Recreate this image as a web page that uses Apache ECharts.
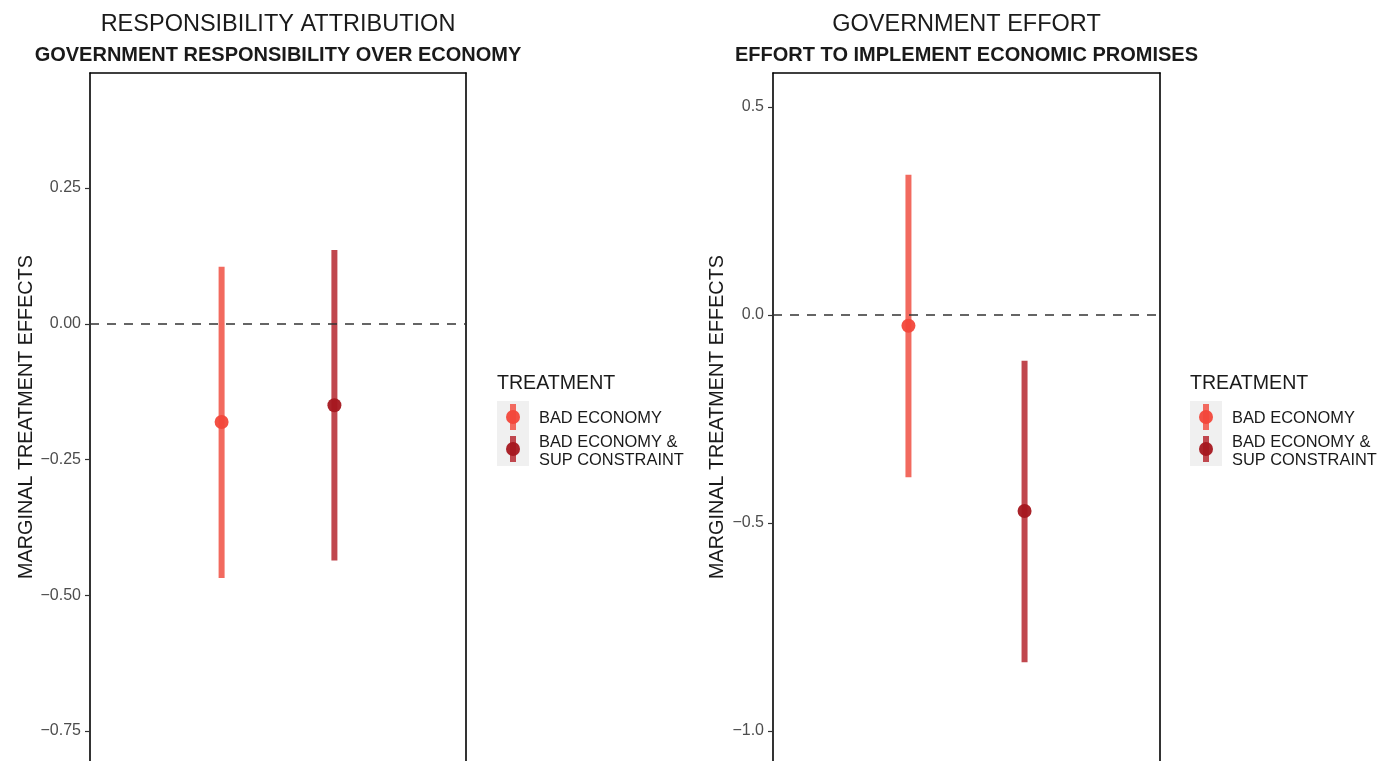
<!DOCTYPE html>
<html>
<head>
<meta charset="utf-8">
<script src="https://cdn.jsdelivr.net/npm/echarts@6/dist/echarts.min.js"></script>
<style>
  html, body { margin: 0; padding: 0; background: #fff; }
  #chart { width: 1392px; height: 761px; }
</style>
</head>
<body>
<div id="chart"></div>
<script>
// Treatment groups shown in both panels
const treatments = ['BAD ECONOMY', 'BAD ECONOMY &\nSUP CONSTRAINT'];

// Panel 1: government responsibility over economy
const respEstimate = [-0.181, -0.150];
const respLower = [-0.468, -0.436];
const respUpper = [0.105, 0.136];
const respTicks = [0.25, 0, -0.25, -0.5, -0.75];

// Panel 2: effort to implement economic promises
const effortEstimate = [-0.026, -0.471];
const effortLower = [-0.390, -0.835];
const effortUpper = [0.337, -0.110];
const effortTicks = [0.5, 0, -0.5, -1.0];

const panelTitles = ['RESPONSIBILITY ATTRIBUTION', 'GOVERNMENT EFFORT'];
const panelSubtitles = ['GOVERNMENT RESPONSIBILITY OVER ECONOMY', 'EFFORT TO IMPLEMENT ECONOMIC PROMISES'];
const yTitle = 'MARGINAL TREATMENT EFFECTS';
const legendTitle = 'TREATMENT';

const barColors = ['#F26A5F', '#C0474E'];
const pointColors = ['#F2473A', '#A5171F'];
const dodge = [-0.18, 0.18];
const FONT = '"Liberation Sans", Arial, Helvetica, sans-serif';

const chart = echarts.init(document.getElementById('chart'), null, { renderer: 'canvas' });

// panels run down to the bottom edge of the canvas (open at the bottom)
const grids = [
  { left: 90, top: 73, width: 376, bottom: 0 },
  { left: 773, top: 73, width: 387, bottom: 0 }
];
const yRanges = [[-0.8052, 0.4618], [-1.0721, 0.5817]];

function fmt(decimals) {
  return v => v.toFixed(decimals).replace('-', '\u2212');
}

const borderLine = { show: true, onZero: false, lineStyle: { color: '#000', width: 1.6 } };

function yAxisFor(idx, ticks, decimals, gap) {
  return {
    type: 'value', gridIndex: idx, min: yRanges[idx][0], max: yRanges[idx][1], position: 'left',
    name: yTitle, nameLocation: 'middle', nameRotate: 90, nameGap: gap,
    nameTextStyle: { fontFamily: FONT, fontSize: 19.8, color: '#1a1a1a' },
    axisLine: borderLine,
    axisTick: { show: true, length: 5, customValues: ticks, lineStyle: { color: '#333', width: 1.2 } },
    axisLabel: { customValues: ticks, formatter: fmt(decimals), fontFamily: FONT, fontSize: 16, color: '#4d4d4d', margin: 9 },
    splitLine: { show: false }
  };
}

function rightEdge(idx) {
  return {
    type: 'value', gridIndex: idx, min: yRanges[idx][0], max: yRanges[idx][1], position: 'right',
    axisLine: borderLine, axisTick: { show: false }, axisLabel: { show: false }, splitLine: { show: false }
  };
}

const series = [];
function addPanel(idx, est, lo, hi) {
  treatments.forEach((t, i) => {
    const x = 1 + dodge[i];
    series.push({
      type: 'line', xAxisIndex: idx, yAxisIndex: idx, name: t,
      data: [[x, hi[i]], [x, lo[i]]],
      showSymbol: false, symbol: 'none', silent: true, z: 3,
      lineStyle: { color: barColors[i], width: 6, cap: 'butt' }
    });
    series.push({
      type: 'scatter', xAxisIndex: idx, yAxisIndex: idx, name: t,
      data: [[x, est[i]]], symbolSize: 14, z: 4,
      itemStyle: { color: pointColors[i], opacity: 0.95 }
    });
  });
  // reference line at zero
  series.push({
    type: 'line', xAxisIndex: idx, yAxisIndex: idx, data: [], z: 2,
    markLine: {
      silent: true, symbol: 'none', label: { show: false },
      lineStyle: { color: '#333', type: [9, 8], width: 1.6 },
      data: [{ yAxis: 0 }]
    }
  });
}
addPanel(0, respEstimate, respLower, respUpper);
addPanel(1, effortEstimate, effortLower, effortUpper);

// Legend keys (one block per panel)
function legendBlock(x0) {
  const els = [];
  els.push({ type: 'text', left: x0, top: 374, style: { text: legendTitle, font: '19.6px ' + FONT, fill: '#1a1a1a' } });
  els.push({ type: 'rect', shape: { x: x0, y: 401, width: 32, height: 65 }, style: { fill: '#f0f0f0' } });
  const keyY = [417, 449];
  treatments.forEach((t, i) => {
    const cx = x0 + 16;
    els.push({ type: 'line', shape: { x1: cx, y1: keyY[i] - 13, x2: cx, y2: keyY[i] + 13 }, style: { stroke: barColors[i], lineWidth: 6 } });
    els.push({ type: 'circle', shape: { cx: cx, cy: keyY[i], r: 7 }, style: { fill: pointColors[i], opacity: 0.95 } });
  });
  els.push({ type: 'text', left: x0 + 42, top: 410, style: { text: treatments[0], font: '16.4px ' + FONT, fill: '#1a1a1a' } });
  els.push({ type: 'text', left: x0 + 42, top: 433, style: { text: treatments[1], font: '16.4px ' + FONT, fill: '#1a1a1a', lineHeight: 18 } });
  return els;
}

const centers = [273, 961.5];
const option = {
  backgroundColor: '#fff',
  animation: false,
  textStyle: { fontFamily: FONT },
  title: [
    { text: panelTitles[0], left: centers[0], top: 8, textAlign: 'center', textStyle: { fontFamily: FONT, fontSize: 23.5, fontWeight: 'normal', color: '#1a1a1a' } },
    { text: panelSubtitles[0], left: centers[0], top: 40, textAlign: 'center', textStyle: { fontFamily: FONT, fontSize: 20, fontWeight: 'bold', color: '#1a1a1a' } },
    { text: panelTitles[1], left: centers[1], top: 8, textAlign: 'center', textStyle: { fontFamily: FONT, fontSize: 23.5, fontWeight: 'normal', color: '#1a1a1a' } },
    { text: panelSubtitles[1], left: centers[1], top: 40, textAlign: 'center', textStyle: { fontFamily: FONT, fontSize: 20, fontWeight: 'bold', color: '#1a1a1a' } }
  ],
  grid: grids.map(g => Object.assign({ show: false }, g)),
  // top edge of each panel frame comes from its x axis line
  xAxis: [0, 1].map(i => ({
    type: 'value', gridIndex: i, min: 0.4, max: 1.6, position: 'top',
    axisLine: borderLine, axisTick: { show: false }, axisLabel: { show: false }, splitLine: { show: false }
  })),
  yAxis: [
    yAxisFor(0, respTicks, 2, 53),
    yAxisFor(1, effortTicks, 1, 45),
    rightEdge(0),
    rightEdge(1)
  ],
  series: series,
  graphic: legendBlock(497).concat(legendBlock(1190))
};
chart.setOption(option);
</script>
</body>
</html>
